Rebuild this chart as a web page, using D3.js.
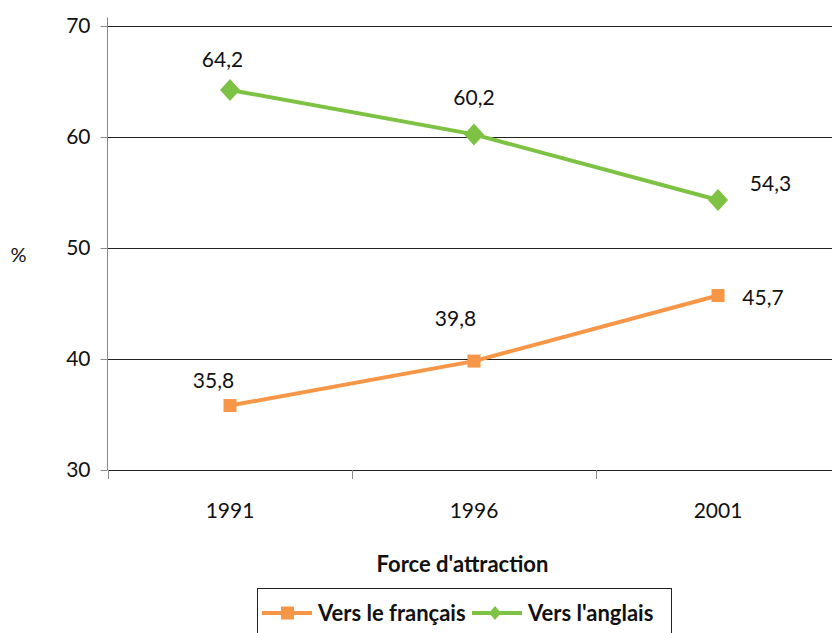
<!DOCTYPE html>
<html><head><meta charset="utf-8">
<script src="https://cdn.jsdelivr.net/npm/d3@7"></script>
<style>body{margin:0;background:#fff}svg{display:block}text{font-family:Lato,"Open Sans",sans-serif}</style>
</head><body>
<svg id="c" width="832" height="633"></svg>
<script>
const categories = ["1991","1996","2001"];
const seriesNames = ["Vers le français","Vers l'anglais"];
const francais = [35.8, 39.8, 45.7];
const anglais = [64.2, 60.2, 54.3];
const yTicks = [30,40,50,60,70];
const labelsFr = ["35,8","39,8","45,7"];
const labelsEn = ["64,2","60,2","54,3"];

const FONT = "Lato,'Open Sans',sans-serif";
const svg = d3.select("#c");
const x = d3.scaleBand().domain(categories).range([108, 840]);
const y = d3.scaleLinear().domain([30,70]).range([470, 25.5]);
const cx = d => x(d) + x.bandwidth()/2;
const orange = "#F79646", green = "#7DC243";
const diamond = (w,h) => `M0,${-h/2}L${w/2},0L0,${h/2}L${-w/2},0Z`;

// gridlines
svg.append("g").selectAll("line").data(yTicks.slice(1)).join("line")
  .attr("x1",108).attr("x2",832).attr("y1",d=>Math.round(y(d))+0.5).attr("y2",d=>Math.round(y(d))+0.5)
  .attr("stroke","#222").attr("stroke-width",1);

// y axis
const ya = svg.append("g").attr("transform","translate(107.5,0)")
  .call(d3.axisLeft(y).tickValues(yTicks).tickSize(7).tickPadding(10).tickFormat(d3.format("d")));
ya.select(".domain").attr("stroke","#888").attr("d","M0,"+(y(70)-8)+"V"+y(30));
ya.selectAll(".tick line").attr("stroke","#888");
ya.selectAll(".tick").attr("transform",d=>"translate(0,"+(Math.round(y(d))+0.5)+")");
ya.selectAll("text").attr("font-size",21).attr("fill","#111").style("font-family",FONT);

// x axis
const xa = svg.append("g").attr("transform","translate(0,470.5)")
  .call(d3.axisBottom(x).tickSize(0).tickPadding(33));
xa.select(".domain").attr("stroke","#222").attr("d","M108,0H832");
xa.selectAll("text").attr("font-size",21).attr("fill","#111").style("font-family",FONT);
svg.append("g").selectAll("line").data(d3.range(categories.length+1)).join("line")
  .attr("x1",i=>Math.round(108+i*x.step())+0.5).attr("x2",i=>Math.round(108+i*x.step())+0.5)
  .attr("y1",470).attr("y2",479).attr("stroke","#888");

// lines
const line = d3.line().x((d,i)=>cx(categories[i])).y(d=>y(d));
svg.append("path").datum(francais).attr("d",line).attr("fill","none").attr("stroke",orange).attr("stroke-width",4);
svg.append("path").datum(anglais).attr("d",line).attr("fill","none").attr("stroke",green).attr("stroke-width",4);

// markers
svg.append("g").selectAll("rect").data(francais).join("rect")
  .attr("x",(d,i)=>cx(categories[i])-6.5).attr("y",d=>y(d)-6.5).attr("width",13).attr("height",13).attr("fill",orange);
svg.append("g").selectAll("path").data(anglais).join("path")
  .attr("d",diamond(20,22))
  .attr("transform",(d,i)=>"translate("+cx(categories[i])+","+y(d)+")").attr("fill",green);

// data labels
const offFr = [[-16.5,-17.5],[-18.5,-35],[45,9]];
const offEn = [[-7.5,-22.5],[0,-29],[52.5,-8.5]];
svg.append("g").selectAll("text").data(francais).join("text")
  .attr("x",(d,i)=>cx(categories[i])+offFr[i][0]).attr("y",(d,i)=>y(d)+offFr[i][1])
  .attr("text-anchor","middle").attr("font-size",21).attr("fill","#111").text((d,i)=>labelsFr[i]);
svg.append("g").selectAll("text").data(anglais).join("text")
  .attr("x",(d,i)=>cx(categories[i])+offEn[i][0]).attr("y",(d,i)=>y(d)+offEn[i][1])
  .attr("text-anchor","middle").attr("font-size",21).attr("fill","#111").text((d,i)=>labelsEn[i]);

// axis titles
svg.append("text").attr("x",18.5).attr("y",262).attr("text-anchor","middle").attr("font-size",20).attr("fill","#111").text("%");
svg.append("text").attr("x",462.5).attr("y",572).attr("text-anchor","middle").attr("font-size",22).attr("font-weight","bold").attr("fill","#111").text("Force d'attraction");

// legend
const lg = svg.append("g");
lg.append("rect").attr("x",257.5).attr("y",588.5).attr("width",414).attr("height",60).attr("fill","#fff").attr("stroke","#222");
const items = [
  {name:seriesNames[0], color:orange, x0:262, type:"sq"},
  {name:seriesNames[1], color:green, x0:472, type:"di"}
];
items.forEach(it=>{
  lg.append("line").attr("x1",it.x0).attr("x2",it.x0+50).attr("y1",613).attr("y2",613).attr("stroke",it.color).attr("stroke-width",4);
  if(it.type==="sq") lg.append("rect").attr("x",it.x0+19).attr("y",606.5).attr("width",13).attr("height",13).attr("fill",it.color);
  else lg.append("path").attr("d",diamond(12,14)).attr("transform","translate("+(it.x0+23)+",613)").attr("fill",it.color);
  lg.append("text").attr("x",it.x0+56).attr("y",621).attr("font-size",22).attr("font-weight","bold").attr("fill","#111").text(it.name);
});
</script>
</body></html>
